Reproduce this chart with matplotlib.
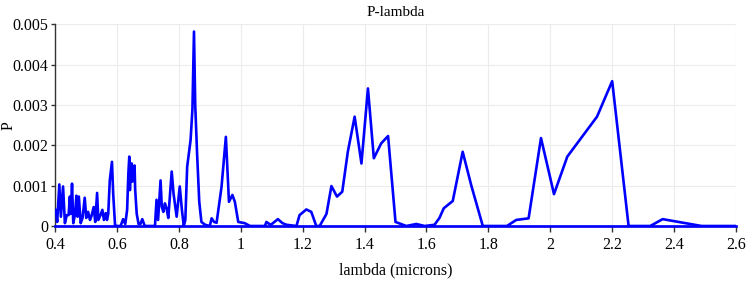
import matplotlib
matplotlib.use("Agg")
import matplotlib.pyplot as plt
from matplotlib.ticker import FuncFormatter

lam = [0.400, 0.403, 0.407, 0.414, 0.419, 0.426, 0.432, 0.438, 0.444, 0.448, 0.451,
       0.455, 0.459, 0.465, 0.469, 0.473, 0.477, 0.483, 0.489, 0.496, 0.501, 0.507,
       0.513, 0.518, 0.525, 0.530, 0.536, 0.540, 0.547, 0.553, 0.558, 0.564, 0.568,
       0.572, 0.577, 0.584, 0.588, 0.594, 0.600, 0.612, 0.620, 0.627, 0.633, 0.637,
       0.640, 0.642, 0.645, 0.648, 0.650, 0.654, 0.657, 0.659, 0.664, 0.670, 0.676,
       0.682, 0.690, 0.700, 0.723, 0.728, 0.733, 0.741, 0.745, 0.750, 0.755, 0.760,
       0.766, 0.777, 0.783, 0.793, 0.803, 0.810, 0.816, 0.821, 0.827, 0.838, 0.844,
       0.849, 0.853, 0.859, 0.866, 0.873, 0.885, 0.900, 0.906, 0.914, 0.922, 0.938,
       0.952, 0.962, 0.973, 0.981, 0.992, 1.013, 1.030, 1.078, 1.083, 1.094, 1.099,
       1.120, 1.135, 1.148, 1.180, 1.190, 1.212, 1.228, 1.244, 1.255, 1.277, 1.293,
       1.311, 1.328, 1.346, 1.368, 1.390, 1.411, 1.430, 1.454, 1.476, 1.500, 1.535,
       1.567, 1.594, 1.626, 1.642, 1.656, 1.669, 1.685, 1.717, 1.745, 1.782, 1.860,
       1.890, 1.930, 1.970, 2.012, 2.055, 2.151, 2.200, 2.253, 2.323, 2.363, 2.489,
       2.600]

P = [0.00040, 0.00040, 0.00010, 0.00103, 0.00023, 0.00098, 0.00007, 0.00027, 0.00027,
     0.00073, 0.00030, 0.00105, 0.00007, 0.00030, 0.00075, 0.00023, 0.00073, 0.00007,
     0.00020, 0.00070, 0.00020, 0.00035, 0.00015, 0.00025, 0.00047, 0.00010, 0.00082,
     0.00015, 0.00027, 0.00040, 0.00015, 0.00032, 0.00015, 0.00030, 0.00113, 0.00159,
     0.00080, 0.00002, 0.00000, 0.00000, 0.00017, 0.00005, 0.00040, 0.00130, 0.00172,
     0.00089, 0.00150, 0.00155, 0.00110, 0.00140, 0.00150, 0.00090, 0.00030, 0.00005,
     0.00005, 0.00017, 0.00000, 0.00000, 0.00000, 0.00065, 0.00015, 0.00113, 0.00048,
     0.00035, 0.00056, 0.00045, 0.00020, 0.00135, 0.00080, 0.00023, 0.00098, 0.00040,
     0.00000, 0.00015, 0.00147, 0.00213, 0.00290, 0.00482, 0.00300, 0.00180, 0.00060,
     0.00010, 0.00003, 0.00000, 0.00019, 0.00010, 0.00008, 0.00097, 0.00221, 0.00060,
     0.00077, 0.00060, 0.00010, 0.00007, 0.00000, 0.00000, 0.00010, 0.00004, 0.00004,
     0.00017, 0.00007, 0.00003, 0.00000, 0.00027, 0.00041, 0.00035, 0.00000, 0.00000,
     0.00030, 0.00099, 0.00073, 0.00085, 0.00184, 0.00271, 0.00155, 0.00341, 0.00168,
     0.00205, 0.00223, 0.00010, 0.00000, 0.00005, 0.00000, 0.00003, 0.00020, 0.00044,
     0.00052, 0.00062, 0.00184, 0.00100, 0.00000, 0.00000, 0.00015, 0.00019, 0.00218,
     0.00079, 0.00172, 0.00271, 0.00359, 0.00000, 0.00000, 0.00017, 0.00000, 0.00000]

xticks = [0.4, 0.6, 0.8, 1.0, 1.2, 1.4, 1.6, 1.8, 2.0, 2.2, 2.4, 2.6]
yticks = [0, 0.001, 0.002, 0.003, 0.004, 0.005]

plt.rcParams['font.family'] = ['Liberation Serif', 'DejaVu Serif']

fig = plt.figure(figsize=(7.46, 2.83), dpi=100)
ax = fig.add_axes([55/746, 1 - 226/283, (736 - 55)/746, (226 - 24.3)/283])

ax.plot(lam, P, color='#0000ff', linewidth=1.9, solid_joinstyle='round', zorder=3)
ax.plot([lam[0], lam[-1]], [0, 0], color='#0000ff', linewidth=1.9, zorder=3, clip_on=False)

ax.set_xlim(0.4, 2.6)
ax.set_ylim(0, 0.005)
ax.set_xticks(xticks)
ax.set_yticks(yticks)
ax.xaxis.set_major_formatter(FuncFormatter(lambda v, p: f"{v:g}"))
ax.yaxis.set_major_formatter(FuncFormatter(lambda v, p: f"{v:g}"))
ax.grid(True, color='#ececec', linewidth=0.8)
ax.set_axisbelow(True)
for s in ['top', 'right']:
    ax.spines[s].set_visible(False)
for s in ['left', 'bottom']:
    ax.spines[s].set_color('#333333')
    ax.spines[s].set_linewidth(1.0)
ax.tick_params(axis='y', labelsize=11.5, length=3, width=1, color='#333333', pad=2)
ax.tick_params(axis='x', labelsize=11.5, length=4, width=1, color='#333333', pad=4)

ax.set_title('P-lambda', fontsize=11, pad=6)
ax.set_xlabel('lambda (microns)', fontsize=11.5)
ax.set_ylabel('P', fontsize=11.5)
ax.xaxis.set_label_coords(0.5, -0.178)
ax.yaxis.set_label_coords(-0.057, 0.5)

fig.savefig('out.png', dpi=100)
